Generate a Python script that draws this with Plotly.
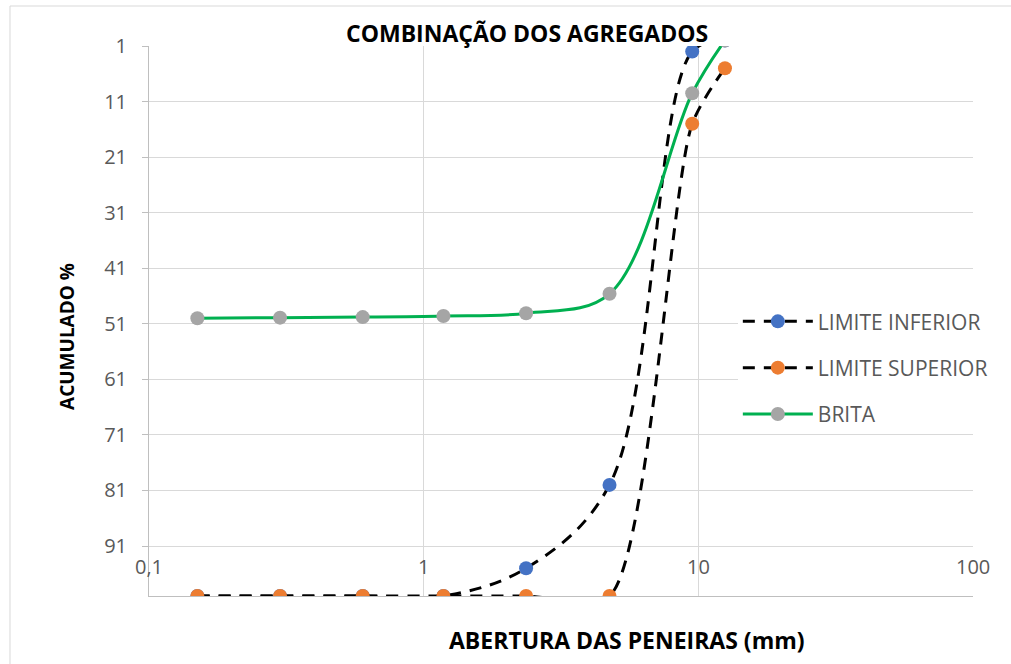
import math
import plotly.graph_objects as go

# Sieve openings (mm) and cumulative retained percentages
sieves = [0.15, 0.3, 0.6, 1.18, 2.36, 4.75, 9.5, 12.5]
limite_inferior = [100, 100, 100, 100, 95, 80, 2, 0]
limite_superior = [100, 100, 100, 100, 100, 100, 15, 5]
brita = [50.0, 49.9, 49.8, 49.6, 49.1, 45.6, 9.5, 0]

y_ticks = [1, 11, 21, 31, 41, 51, 61, 71, 81, 91]
x_ticks = [0.1, 1, 10, 100]
x_tick_text = ["0,1", "1", "10", "100"]

FONT = "Open Sans"
GRID = "#d9d9d9"
AXIS = "#bfbfbf"
TEXT = "#595959"

fig = go.Figure()

fig.add_trace(go.Scatter(
    x=sieves, y=limite_inferior, name="LIMITE INFERIOR", legendgroup="inf",
    mode="lines+markers",
    line=dict(color="black", width=3, dash="12px,9px", shape="spline", smoothing=1),
    marker=dict(color="#4472c4", size=14),
))
fig.add_trace(go.Scatter(
    x=sieves, y=limite_superior, name="LIMITE SUPERIOR", legendgroup="sup",
    mode="lines+markers",
    line=dict(color="black", width=3, dash="12px,9px", shape="spline", smoothing=0.7),
    marker=dict(color="#ed7d31", size=14),
))
fig.add_trace(go.Scatter(
    x=sieves, y=brita, name="BRITA", legendgroup="brita",
    mode="lines+markers",
    line=dict(color="#00b050", width=3, shape="spline", smoothing=1),
    marker=dict(color="#a5a5a5", size=14),
))

fig.update_xaxes(
    type="log", range=[-1, 2], tickvals=x_ticks, showticklabels=False,
    showgrid=True, gridcolor=GRID, gridwidth=1,
    showline=True, linecolor=AXIS, linewidth=1, zeroline=False,
)
fig.update_yaxes(
    range=[100, 1], tickvals=y_ticks, ticks="outside", ticklen=6, tickcolor=AXIS,
    ticklabelstandoff=11,
    showgrid=True, gridcolor=GRID, gridwidth=1,
    showline=True, linecolor=AXIS, linewidth=1, zeroline=False,
    tickfont=dict(family=FONT, size=20, color=TEXT),
)

# x tick labels sit just above the bottom axis line
for v, t in zip(x_ticks, x_tick_text):
    fig.add_annotation(x=math.log10(v), y=0.0545, xref="x", yref="paper",
                       text=t, showarrow=False, xanchor="center", yanchor="middle",
                       font=dict(family=FONT, size=20, color=TEXT))

fig.add_annotation(x=0.4587, y=1.0236, xref="paper", yref="paper",
                   text="<b>COMBINAÇÃO DOS AGREGADOS</b>", showarrow=False,
                   xanchor="center", yanchor="middle",
                   font=dict(family=FONT, size=23, color="black"))
fig.add_annotation(x=0.58, y=-0.08, xref="paper", yref="paper",
                   text="<b>ABERTURA DAS PENEIRAS (mm)</b>", showarrow=False,
                   xanchor="center", yanchor="middle",
                   font=dict(family=FONT, size=23, color="black"))
fig.add_annotation(x=-0.0995, y=0.471, xref="paper", yref="paper",
                   text="<b>ACUMULADO %</b>", showarrow=False, textangle=-90,
                   xanchor="center", yanchor="middle",
                   font=dict(family=FONT, size=19, color="black"))

# chart frame
fig.add_shape(type="rect", xref="paper", yref="paper",
              x0=-0.1687, x1=1.06, y0=-0.16, y1=1.0727,
              line=dict(color=GRID, width=1), layer="below")

fig.update_layout(
    width=1011, height=664,
    margin=dict(l=149, r=38, t=46, b=68),
    paper_bgcolor="white", plot_bgcolor="white",
    showlegend=True,
    legend=dict(x=0.7146, y=0.536, xanchor="left", yanchor="top",
                bgcolor="white", borderwidth=0, itemwidth=70, tracegroupgap=16,
                font=dict(family=FONT, size=21, color=TEXT)),
)

fig.write_html("out.html")
